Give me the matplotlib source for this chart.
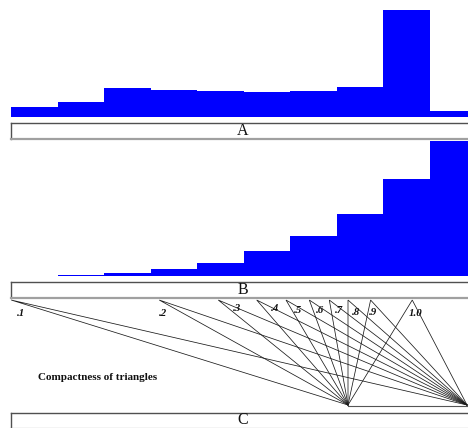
import numpy as np
import matplotlib
matplotlib.use("Agg")
import matplotlib.pyplot as plt

# ---------------------------------------------------------------
# data
bin_left = [0.0, 0.1, 0.2, 0.3, 0.4, 0.5, 0.6, 0.7, 0.8, 0.9]
counts_a = [10.3, 15.0, 29.3, 27.0, 26.0, 25.0, 26.7, 30.0, 107.3, 6.0]
counts_b = [0.0, 1.5, 3.0, 7.5, 13.5, 25.5, 40.0, 62.0, 97.0, 135.0]

# triangles: fixed base (0,0)-(1,0), apex position along x, common apex height
compactness = [".1", ".2", ".3", ".4", ".5", ".6", ".7", ".8", ".9", "1.0"]
apex_x = [-2.83, -1.586, -1.09, -0.767, -0.521, -0.325, -0.157, 0.0, 0.19, 0.54]
apex_h = 0.882

panel_labels = ["A", "B", "C"]
caption = "Compactness of triangles"

# ---------------------------------------------------------------
W, H = 468, 428
BLUE = "#0000ff"


def rect(x0, y0, x1, y1):
    # pixel box (top-left origin) -> figure fraction
    return [x0 / W, 1 - y1 / H, (x1 - x0) / W, (y1 - y0) / H]


def bare(ax):
    ax.set_xticks([])
    ax.set_yticks([])
    for s in ax.spines.values():
        s.set_visible(False)
    ax.patch.set_alpha(0)


def label_box(fig, r, text):
    ax = fig.add_axes(r)
    ax.set_xticks([])
    ax.set_yticks([])
    ax.set_facecolor("white")
    ax.spines["top"].set_color("#505050")
    ax.spines["left"].set_color("#505050")
    ax.spines["bottom"].set_color("#a0a0a0")
    ax.spines["right"].set_color("#a0a0a0")
    ax.spines["top"].set_linewidth(1.0)
    ax.spines["left"].set_linewidth(1.0)
    ax.spines["bottom"].set_linewidth(1.6)
    ax.text(0.5, 0.5, text, transform=ax.transAxes, ha="center", va="center",
            fontsize=11.5, family="Liberation Serif", color="#111111")
    return ax


fig = plt.figure(figsize=(W / 100, H / 100), dpi=100)
fig.patch.set_facecolor("white")

# panel A histogram
ax_a = fig.add_axes(rect(11, 0, 476, 117.3))
ax_a.bar(bin_left, counts_a, width=0.1, align="edge", color=BLUE, linewidth=0)
ax_a.set_xlim(0, 1)
ax_a.set_ylim(0, 117.3)
bare(ax_a)

label_box(fig, rect(11, 123.3, 475, 138.5), panel_labels[0])

# panel B histogram
ax_b = fig.add_axes(rect(11, 139, 476, 276))
ax_b.bar(bin_left, counts_b, width=0.1, align="edge", color=BLUE, linewidth=0)
ax_b.set_xlim(0, 1)
ax_b.set_ylim(0, 137)
bare(ax_b)

label_box(fig, rect(11, 282, 475, 297.5), panel_labels[1])

# panel C triangles (shared base drawn once)
ax_c = fig.add_axes(rect(0, 298, 468, 412))
for ax_ in apex_x:
    ax_c.plot([0.0, ax_, 1.0], [0.0, apex_h, 0.0], color="#1a1a1a",
              linewidth=0.55, solid_joinstyle="miter")
ax_c.plot([0.0, 1.05], [-0.006, -0.006], color="#555555", linewidth=0.8)

label_dx = [10, 4, 19, 18, 12, 11, 10, 8, 2, 3]
label_dy = [-13, -13, -8, -8, -10, -10, -10, -12, -12, -13]
for lab, ax_, dx, dy in zip(compactness, apex_x, label_dx, label_dy):
    ax_c.annotate(lab, (ax_, apex_h), xytext=(dx, dy), textcoords="offset pixels",
                  ha="center", va="center", fontsize=7.8, fontstyle="italic",
                  fontweight="bold", family="Liberation Serif", color="#111111")

ax_c.text(98 / 468, 1 - (378 - 298) / (412 - 298), caption, transform=ax_c.transAxes,
          ha="center", va="center", fontsize=8.0, fontweight="bold",
          family="Liberation Serif", color="#111111")
ax_c.set_xlim(-348 / 119, 120 / 119)
ax_c.set_ylim(-7 / 119, 107 / 119)
bare(ax_c)

label_box(fig, rect(11, 412.5, 475, 428.5), panel_labels[2])

fig.savefig("out.png", dpi=100, facecolor="white")
